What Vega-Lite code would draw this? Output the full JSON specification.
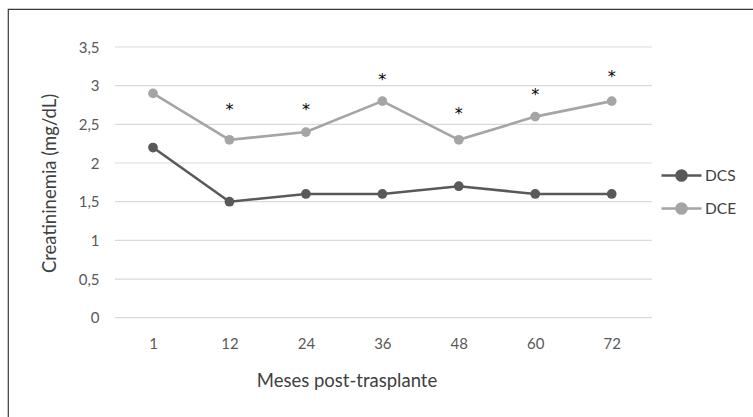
{
  "$schema": "https://vega.github.io/schema/vega-lite/v6.json",
  "width": 747,
  "height": 411,
  "autosize": {"type": "none"},
  "padding": {"left": 8, "top": 9, "right": -2, "bottom": -3},
  "background": "white",
  "config": {
    "view": {"stroke": "#3a3a3a", "strokeWidth": 1.2},
    "font": "Lato",
    "text": {"font": "Lato"}
  },
  "datasets": {
    "series": [
      {"mes": "1", "serie": "DCS", "v": 2.2},
      {"mes": "12", "serie": "DCS", "v": 1.5},
      {"mes": "24", "serie": "DCS", "v": 1.6},
      {"mes": "36", "serie": "DCS", "v": 1.6},
      {"mes": "48", "serie": "DCS", "v": 1.7},
      {"mes": "60", "serie": "DCS", "v": 1.6},
      {"mes": "72", "serie": "DCS", "v": 1.6},
      {"mes": "1", "serie": "DCE", "v": 2.9},
      {"mes": "12", "serie": "DCE", "v": 2.3},
      {"mes": "24", "serie": "DCE", "v": 2.4},
      {"mes": "36", "serie": "DCE", "v": 2.8},
      {"mes": "48", "serie": "DCE", "v": 2.3},
      {"mes": "60", "serie": "DCE", "v": 2.6},
      {"mes": "72", "serie": "DCE", "v": 2.8}
    ],
    "asteriscos": [
      {"mes": "12", "y": 2.75, "label": "*"},
      {"mes": "24", "y": 2.75, "label": "*"},
      {"mes": "36", "y": 3.135, "label": "*"},
      {"mes": "48", "y": 2.70, "label": "*"},
      {"mes": "60", "y": 2.94, "label": "*"},
      {"mes": "72", "y": 3.18, "label": "*"}
    ],
    "grid": [
      {"g": 0}, {"g": 0.5}, {"g": 1}, {"g": 1.5}, {"g": 2}, {"g": 2.5}, {"g": 3}, {"g": 3.5}
    ]
  },
  "layer": [
    {
      "data": {"name": "grid"},
      "mark": {"type": "rule", "color": "#d9d9d9", "strokeWidth": 1.2, "xOffset": -38, "x2Offset": 40},
      "encoding": {
        "x": {"datum": "1", "type": "ordinal", "scale": {"type": "point", "padding": 0, "domain": ["1", "12", "24", "36", "48", "60", "72"], "range": [145, 603.7]},
          "axis": {"orient": "bottom", "title": "Meses post-trasplante", "offset": -77, "domain": false, "ticks": false, "tickSize": 0, "labelPadding": 0, "labelBaseline": "middle", "labelAngle": 0, "labelFont": "Lato", "labelFontSize": 15, "labelColor": "#595959", "titleFont": "Lato", "titleFontSize": 18.5, "titleFontWeight": "normal", "titleColor": "#404040", "titleX": 338.5, "titleY": 37, "titleBaseline": "middle", "titleAlign": "center", "grid": false}},
        "x2": {"datum": "72"},
        "y": {"field": "g", "type": "quantitative", "scale": {"domain": [0, 3.5], "range": [308.7, 38], "nice": false, "zero": false},
          "axis": {"orient": "left", "title": "Creatininemia (mg/dL)", "values": [0, 0.5, 1, 1.5, 2, 2.5, 3, 3.5], "labelExpr": "replace(format(datum.value, '~g'), '.', ',')", "offset": -91, "domain": false, "ticks": false, "tickSize": 0, "labelPadding": 0, "labelFont": "Lato", "labelFontSize": 15, "labelColor": "#595959", "titleFont": "Lato", "titleFontSize": 18.5, "titleFontWeight": "normal", "titleColor": "#404040", "titleAngle": -90, "titleX": -50, "titleY": 174, "titleBaseline": "middle", "titleAlign": "center", "grid": false}}
      }
    },
    {
      "data": {"name": "series"},
      "mark": {"type": "line", "strokeWidth": 2.6},
      "encoding": {
        "x": {"field": "mes", "type": "ordinal"},
        "y": {"field": "v", "type": "quantitative"},
        "color": {"field": "serie", "type": "nominal",
          "scale": {"domain": ["DCS", "DCE"], "range": ["#595959", "#a5a5a5"]},
          "legend": {"title": null, "orient": "none", "legendX": 662, "legendY": 155, "padding": 0,
            "symbolType": "M-2,0H2M0.5,0A0.5,0.5,0,1,1,-0.5,0A0.5,0.5,0,1,1,0.5,0Z",
            "symbolSize": 400, "symbolStrokeWidth": 2.6, "labelOffset": 12, "rowPadding": 11,
            "labelFont": "Lato", "labelFontSize": 15.5, "labelColor": "#404040",
            "encode": {"symbols": {"update": {"fill": {"scale": "color", "field": "value"}, "stroke": {"scale": "color", "field": "value"}, "fillOpacity": {"value": 1}}}}}}
      }
    },
    {
      "data": {"name": "series"},
      "mark": {"type": "point", "filled": true, "opacity": 1, "size": 95},
      "encoding": {
        "x": {"field": "mes", "type": "ordinal"},
        "y": {"field": "v", "type": "quantitative"},
        "color": {"field": "serie", "type": "nominal"}
      }
    },
    {
      "data": {"name": "asteriscos"},
      "mark": {"type": "text", "fontSize": 16, "font": "DejaVu Sans", "fill": "#000000", "baseline": "middle", "dy": 5},
      "encoding": {
        "x": {"field": "mes", "type": "ordinal"},
        "y": {"field": "y", "type": "quantitative"},
        "text": {"field": "label"}
      }
    }
  ]
}
